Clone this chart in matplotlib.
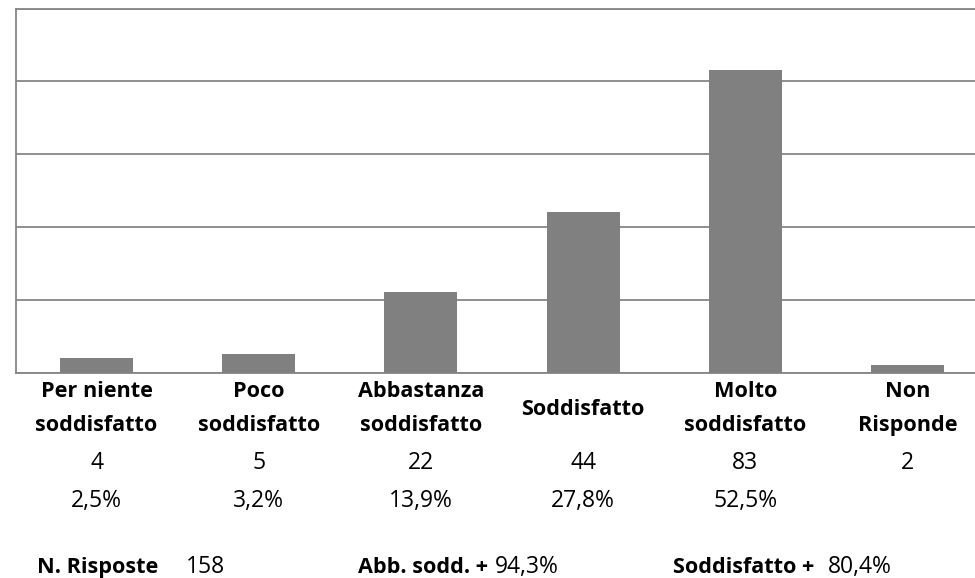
import matplotlib
matplotlib.use("Agg")
import matplotlib.pyplot as plt
from matplotlib.transforms import blended_transform_factory

# satisfaction survey: counts per answer
categories = ["Per niente\nsoddisfatto", "Poco\nsoddisfatto", "Abbastanza\nsoddisfatto",
              "Soddisfatto", "Molto\nsoddisfatto", "Non\nRisponde"]
counts = [4, 5, 22, 44, 83, 2]
percents = [2.5, 3.2, 13.9, 27.8, 52.5, None]

n_risposte = 158
abb_sodd_plus = 94.3
sodd_plus = 80.4

FONT = "Open Sans"
FS_B = 15.6
FS = 16.5
GRID = "#868686"
BAR = "#808080"

plt.rcParams["font.family"] = FONT

W, H = 975, 578
fig = plt.figure(figsize=(W / 100, H / 100), dpi=100)
left, right, top, bottom = 15.5, 988.5, 8.5, 372.5
ax = fig.add_axes([left / W, 1 - bottom / H, (right - left) / W, (bottom - top) / H])

x = list(range(len(counts)))
ax.bar(x, counts, width=0.45, color=BAR, zorder=3)
ax.set_xlim(-0.5, len(counts) - 0.5)
ax.set_ylim(0, 100)
ax.set_yticks([0, 20, 40, 60, 80, 100])
ax.yaxis.grid(True, color=GRID, lw=1.3, zorder=0)
ax.tick_params(left=False, bottom=False, labelleft=False, labelbottom=False)
for sp in ax.spines.values():
    sp.set_color(GRID)
    sp.set_linewidth(1.3)

# text rows under the bars: x in data units, y as pixel baseline from the top
trans = blended_transform_factory(ax.transData, fig.transFigure)


def fy(px):
    return 1 - px / H


def fmt_pct(v):
    return f"{v:.1f}%".replace(".", ",")


for i, (lab, n, p) in enumerate(zip(categories, counts, percents)):
    lines = lab.split("\n")
    rows = [397, 431] if len(lines) == 2 else [415]
    for txt, base in zip(lines, rows):
        ax.text(i, fy(base), txt, transform=trans, ha="center", va="baseline",
                fontsize=FS_B, fontweight="bold", color="black")
    ax.text(i, fy(469), str(n), transform=trans, ha="center", va="baseline",
            fontsize=FS, color="black")
    if p is not None:
        ax.text(i, fy(507), fmt_pct(p), transform=trans, ha="center",
                va="baseline", fontsize=FS, color="black")

# summary line
summary = [
    (37, "N. Risposte", 186, str(n_risposte)),
    (358, "Abb. sodd. +", 495, fmt_pct(abb_sodd_plus)),
    (673, "Soddisfatto +", 828, fmt_pct(sodd_plus)),
]
for bx, btxt, vx, vtxt in summary:
    fig.text(bx / W, fy(573), btxt, ha="left", va="baseline", fontsize=FS_B,
             fontweight="bold", color="black")
    fig.text(vx / W, fy(573), vtxt, ha="left", va="baseline", fontsize=FS,
             color="black")

fig.savefig("out.png", dpi=100, facecolor="white")
